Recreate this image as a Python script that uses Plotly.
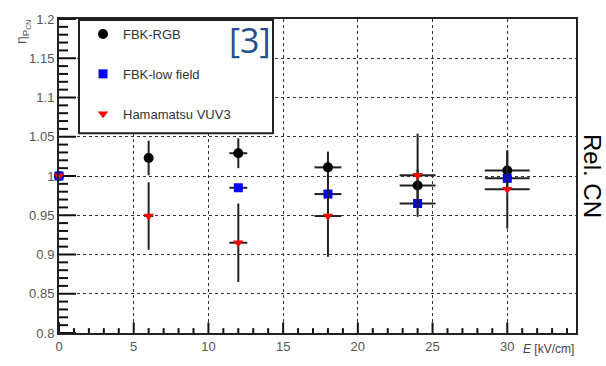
import plotly.graph_objects as go

# Data
x_rgb = [0, 6, 12, 18, 24, 30]
y_rgb = [1.0, 1.023, 1.029, 1.011, 0.988, 1.007]
ey_rgb = [0, 0.022, 0.019, 0.020, 0.020, 0.024]
ex_rgb = [0, 0.3, 0.6, 0.9, 1.2, 1.5]

x_low = [0, 12, 18, 24, 30]
y_low = [1.0, 0.985, 0.977, 0.965, 0.997]
ey_low = [0, 0.004, 0.004, 0.004, 0.004]
ex_low = [0, 0.6, 0.9, 1.2, 1.5]

x_vuv = [0, 6, 12, 18, 24, 30]
y_vuv = [1.0, 0.949, 0.915, 0.949, 1.001, 0.983]
ey_vuv = [0, 0.043, 0.050, 0.052, 0.053, 0.050]
ex_vuv = [0, 0.3, 0.6, 0.9, 1.2, 1.5]

names = ["FBK-RGB", "FBK-low field", "Hamamatsu VUV3"]

X_RANGE = [0, 34.6]
Y_RANGE = [0.8, 1.2]

pw = 606 - 59 - 30
ph = 366 - 13 - 29

def px(x):
    return (x - 59) / pw

def py(y):
    return 1 - (y - 13) / ph

fig = go.Figure()

# ROOT-style inside tick marks as an axis-decoration line trace
xu = (X_RANGE[1] - X_RANGE[0]) / pw
yu = (Y_RANGE[1] - Y_RANGE[0]) / ph
tx, ty = [], []
for k in range(0, 35):
    ln = 11 if k % 5 == 0 else 5
    tx += [k, k, None]
    ty += [Y_RANGE[0], Y_RANGE[0] + ln * yu, None]
for k in range(0, 41):
    v = 0.8 + k * 0.01
    ln = 17 if k % 5 == 0 else 9
    tx += [X_RANGE[0], X_RANGE[0] + ln * xu, None]
    ty += [v, v, None]
fig.add_trace(go.Scatter(x=tx, y=ty, mode="lines", line=dict(color="#111111", width=2),
                         showlegend=False, hoverinfo="skip", cliponaxis=False))

def add(xs, ys, exs, eys, name, color, symbol, size, grp):
    fig.add_trace(go.Scatter(
        x=xs, y=ys, mode="markers", name=name, legendgroup=grp,
        marker=dict(color=color, symbol=symbol, size=size, line=dict(width=0)),
        error_y=dict(type="data", array=eys, color="#222222", thickness=2, width=0),
        error_x=dict(type="data", array=exs, color="#222222", thickness=2, width=0),
        cliponaxis=False,
    ))

add(x_rgb, y_rgb, ex_rgb, ey_rgb, names[0], "black", "circle", 10, "a")
add(x_low, y_low, ex_low, ey_low, names[1], "#0000ff", "square", 9, "b")
add(x_vuv, y_vuv, ex_vuv, ey_vuv, names[2], "#ff0000", "triangle-down", 9, "c")

tickfont = dict(family="Liberation Sans, Arial", size=13, color="#555555")

fig.update_layout(
    xaxis=dict(
        range=X_RANGE, tickmode="linear", dtick=5, tick0=0,
        ticks="", showline=True, linecolor="#222222", linewidth=2, mirror=True,
        showgrid=True, gridcolor="#333333", griddash="dot", gridwidth=1,
        zeroline=False, tickfont=tickfont,
    ),
    yaxis=dict(
        range=Y_RANGE, tickmode="linear", dtick=0.05, tick0=0.8,
        ticks="", showline=True, linecolor="#222222", linewidth=2, mirror=True,
        showgrid=True, gridcolor="#333333", griddash="dot", gridwidth=1,
        zeroline=False, tickfont=tickfont,
    ),
)

fig.update_layout(
    width=606, height=366,
    margin=dict(l=59, r=30, t=13, b=29),
    paper_bgcolor="white", plot_bgcolor="white",
    showlegend=True,
    legend=dict(
        x=px(83), y=py(13), xanchor="left", yanchor="top",
        borderwidth=0, bgcolor="rgba(0,0,0,0)",
        font=dict(family="Liberation Sans, Arial", size=13, color="#333333"),
        traceorder="grouped", tracegroupgap=20,
    ),
    shapes=[
        dict(type="rect", xref="paper", yref="paper",
             x0=px(79), x1=px(273), y0=py(131), y1=py(14),
             line=dict(color="#222222", width=2), fillcolor="white", layer="above"),
    ],
    annotations=[
        dict(text="[3]", x=px(250), y=py(35), xref="paper", yref="paper",
             xanchor="center", yanchor="middle", showarrow=False,
             font=dict(family="Open Sans, Liberation Sans", size=34, color="#24508f")),
        dict(text="<i>E</i> [kV/cm]", x=1.0, y=py(354), xref="paper", yref="paper",
             xanchor="right", yanchor="middle", showarrow=False,
             font=dict(family="Liberation Sans, Arial", size=12, color="#444444")),
        dict(text="η<sub>P<sub>CN</sub></sub>", x=px(22), y=py(12), xref="paper", yref="paper",
             xanchor="center", yanchor="top", textangle=-90, showarrow=False,
             font=dict(family="Liberation Sans, Arial", size=14, color="#555555")),
        dict(text="Rel. CN", x=px(593), y=py(175), xref="paper", yref="paper",
             xanchor="center", yanchor="middle", textangle=90, showarrow=False,
             font=dict(family="Liberation Sans, Arial", size=24, color="black")),
    ],
)

fig.write_html("out.html")
